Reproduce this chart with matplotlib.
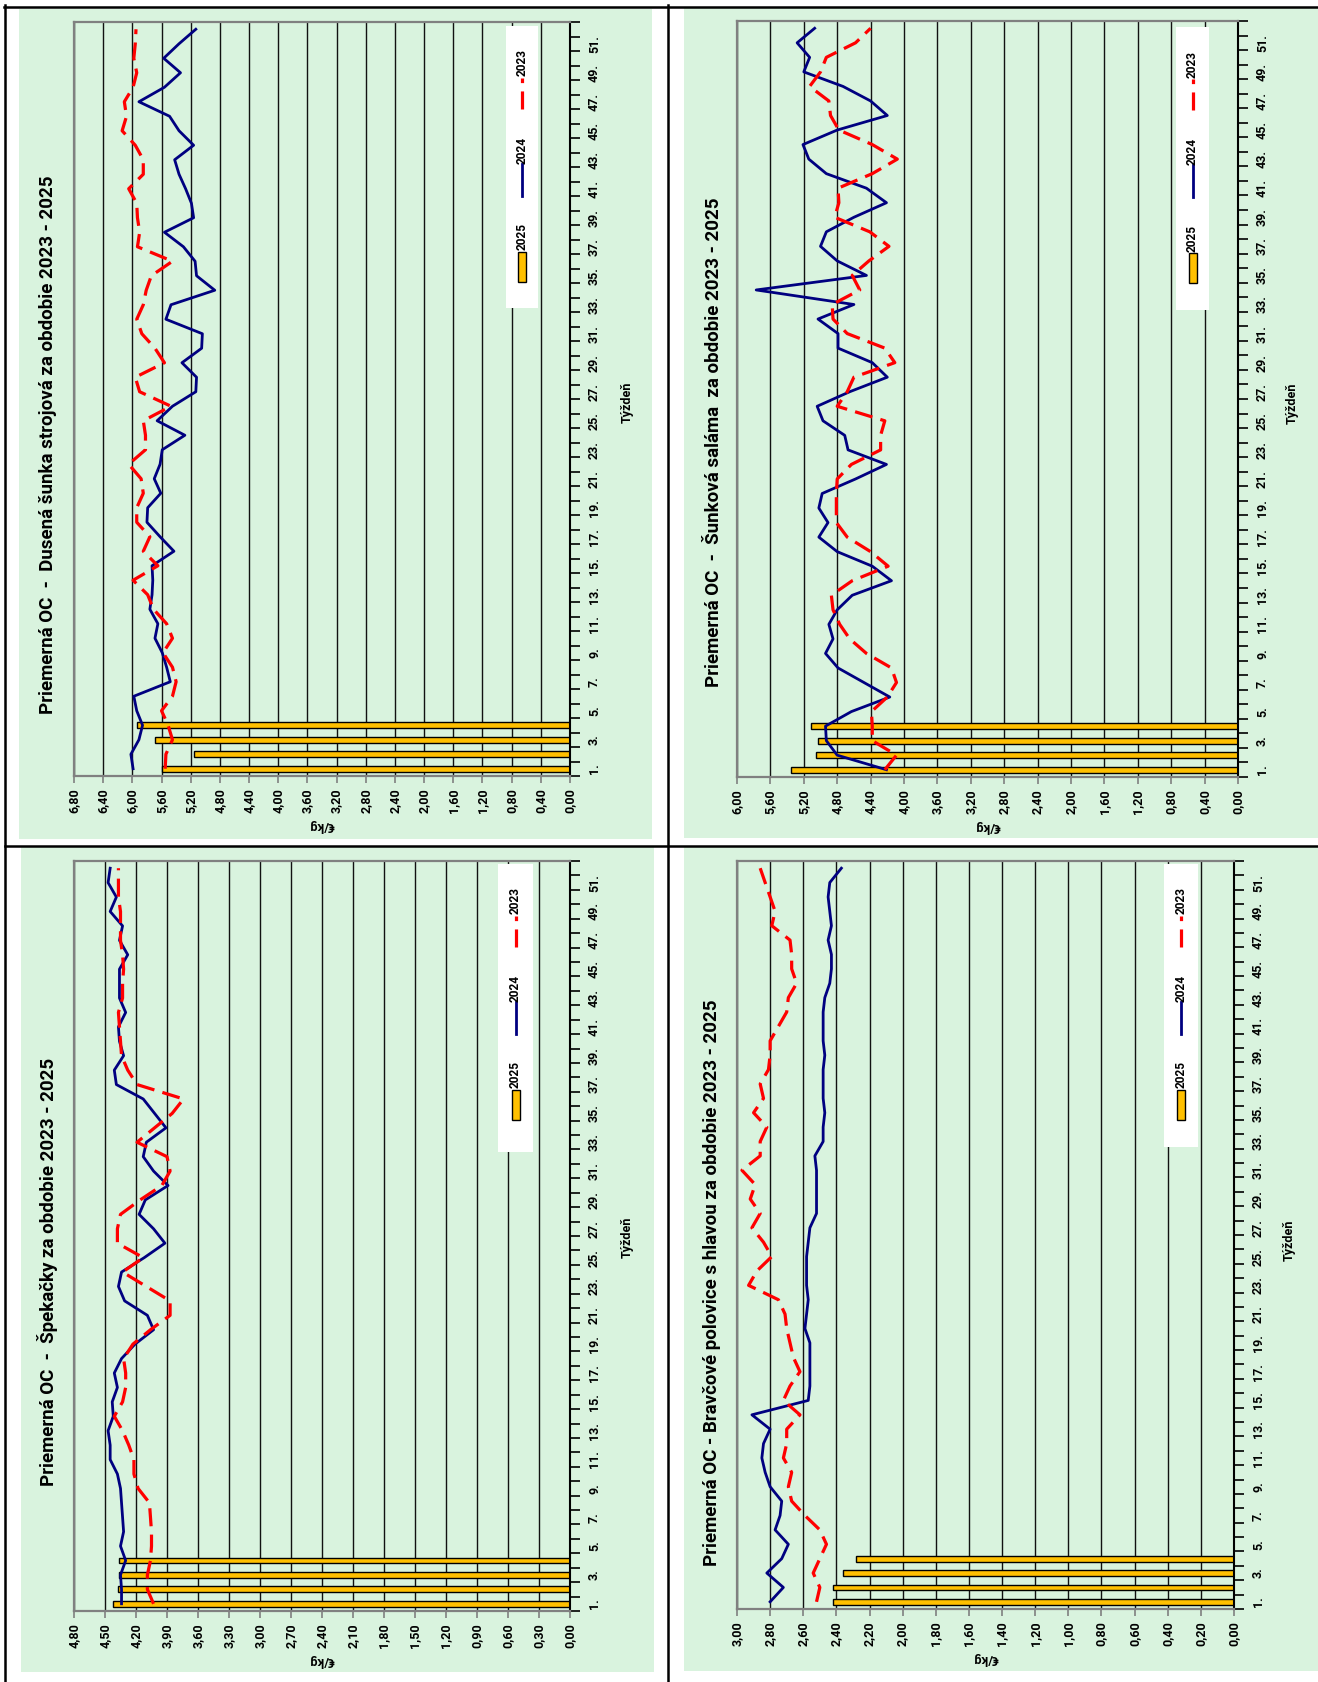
import numpy as np
import matplotlib
matplotlib.use("Agg")
import matplotlib.pyplot as plt
from matplotlib import font_manager
from matplotlib.patches import Rectangle
from matplotlib.lines import Line2D
from matplotlib.ticker import FixedLocator

W, H = 1318, 1682

weeks = list(range(1, 53))
weeks_2025 = [1, 2, 3, 4]

# Dusena sunka strojova
sunka_2025 = [5.59, 5.16, 5.69, 5.93]
sunka_2024 = [5.99, 6.02, 5.91, 5.86, 5.94, 5.98, 5.48, 5.53, 5.59, 5.69,
              5.65, 5.76, 5.73, 5.72, 5.73, 5.43, 5.62, 5.80, 5.79, 5.61,
              5.70, 5.62, 5.59, 5.28, 5.66, 5.45, 5.13, 5.12, 5.32, 5.05,
              5.04, 5.54, 5.47, 4.87, 5.12, 5.14, 5.30, 5.56, 5.16, 5.19,
              5.27, 5.36, 5.42, 5.16, 5.36, 5.49, 5.91, 5.56, 5.34, 5.57,
              5.36, 5.13]
sunka_2023 = [5.55, 5.54, 5.45, 5.51, 5.60, 5.45, 5.40, 5.45, 5.58, 5.45,
              5.53, 5.71, 5.79, 5.99, 5.65, 5.85, 5.76, 5.94, 5.94, 5.85,
              5.88, 6.05, 5.82, 5.82, 5.85, 5.47, 5.90, 5.96, 5.56, 5.69,
              5.87, 5.94, 5.85, 5.81, 5.74, 5.45, 5.93, 5.90, 5.93, 5.94,
              6.05, 5.85, 5.85, 5.96, 6.14, 6.08, 6.11, 5.99, 5.94, 5.98,
              5.96, 5.95]

# Sunkova salama
salama_2025 = [5.35, 5.05, 5.03, 5.11]
salama_2024 = [4.21, 4.80, 4.93, 4.94, 4.63, 4.17, 4.48, 4.79, 4.94, 4.85,
               4.90, 4.80, 4.62, 4.15, 4.38, 4.80, 5.02, 4.91, 5.02, 4.98,
               4.58, 4.21, 4.67, 4.71, 4.97, 5.04, 4.65, 4.20, 4.38, 4.79,
               4.79, 5.03, 4.60, 5.77, 4.45, 4.80, 5.00, 4.93, 4.60, 4.21,
               4.45, 4.93, 5.14, 5.21, 4.80, 4.20, 4.40, 4.73, 5.20, 5.13,
               5.28, 5.07]
salama_2023 = [4.23, 4.09, 4.38, 4.38, 4.39, 4.20, 4.09, 4.15, 4.45, 4.65,
               4.77, 4.85, 4.87, 4.62, 4.19, 4.40, 4.68, 4.81, 4.81, 4.81,
               4.80, 4.63, 4.28, 4.28, 4.23, 4.80, 4.68, 4.60, 4.11, 4.23,
               4.68, 4.85, 4.86, 4.53, 4.62, 4.42, 4.18, 4.41, 4.83, 4.78,
               4.79, 4.38, 4.08, 4.38, 4.78, 4.88, 4.90, 5.13, 5.00, 4.93,
               4.58, 4.40]

# Spekacky
spek_2025 = [4.42, 4.37, 4.36, 4.36]
spek_2024 = [4.34, 4.34, 4.35, 4.30, 4.35, 4.32, 4.33, 4.34, 4.35, 4.38,
             4.45, 4.45, 4.47, 4.42, 4.43, 4.38, 4.41, 4.34, 4.21, 4.03,
             4.09, 4.31, 4.37, 4.34, 4.12, 3.92, 4.03, 4.17, 4.11, 3.89,
             4.03, 4.13, 4.10, 3.91, 4.02, 4.13, 4.39, 4.41, 4.32, 4.36,
             4.37, 4.30, 4.36, 4.36, 4.36, 4.28, 4.36, 4.33, 4.45, 4.39,
             4.47, 4.45]
spek_2023 = [4.03, 4.09, 4.09, 4.06, 4.05, 4.05, 4.06, 4.07, 4.18, 4.22,
             4.22, 4.27, 4.33, 4.41, 4.33, 4.30, 4.30, 4.32, 4.23, 4.06,
             3.87, 3.87, 4.10, 4.33, 4.13, 4.38, 4.38, 4.35, 4.16, 3.95,
             3.87, 3.90, 4.19, 4.02, 3.85, 3.74, 4.19, 4.28, 4.34, 4.35,
             4.36, 4.37, 4.33, 4.33, 4.32, 4.33, 4.35, 4.35, 4.35, 4.37,
             4.37, 4.37]

# Bravcove polovice s hlavou
brav_2025 = [2.42, 2.42, 2.36, 2.28]
brav_2024 = [2.80, 2.72, 2.82, 2.73, 2.69, 2.77, 2.74, 2.73, 2.80, 2.83,
             2.85, 2.84, 2.80, 2.91, 2.57, 2.56, 2.56, 2.56, 2.56, 2.59,
             2.58, 2.57, 2.58, 2.58, 2.58, 2.57, 2.56, 2.52, 2.52, 2.52,
             2.52, 2.53, 2.48, 2.48, 2.47, 2.48, 2.48, 2.48, 2.47, 2.48,
             2.48, 2.48, 2.47, 2.44, 2.43, 2.43, 2.45, 2.43, 2.44, 2.45,
             2.44, 2.37]
brav_2023 = [2.52, 2.50, 2.54, 2.50, 2.46, 2.50, 2.59, 2.67, 2.69, 2.67,
             2.72, 2.70, 2.70, 2.62, 2.72, 2.68, 2.62, 2.66, 2.68, 2.70,
             2.71, 2.75, 2.93, 2.88, 2.79, 2.84, 2.91, 2.86, 2.92, 2.89,
             2.97, 2.86, 2.86, 2.82, 2.90, 2.84, 2.86, 2.81, 2.80, 2.80,
             2.75, 2.70, 2.69, 2.64, 2.67, 2.67, 2.68, 2.79, 2.77, 2.80,
             2.83, 2.86]

series_names = ["2025", "2024", "2023"]

# fonts
names = {f.name for f in font_manager.fontManager.ttflist}
if "Liberation Sans Narrow" in names:
    fam, k = "Liberation Sans Narrow", 1.0
else:
    fam, k = "Roboto", 0.9
plt.rcParams["font.family"] = [fam, "DejaVu Sans"]
plt.rcParams["lines.scale_dashes"] = False

green = "#D9F3DE"
navy = "#000080"
red = "#FF0000"
gold = "#FFC000"


def fx(x):
    return x / W


def fy(y):
    return 1 - y / H


fig = plt.figure(figsize=(W / 100, H / 100), dpi=100)


def put(x, y, s, **kw):
    fig.text(fx(x), fy(y), s, **kw)


def draw_panel(green_box, plot_box, title, title_xy, vmax, step,
               v25, v24, v23, leg_box, tyz_xy):
    gx0, gy0, gx1, gy1 = green_box
    fig.patches.append(Rectangle((fx(gx0), fy(gy1)), (gx1 - gx0) / W, (gy1 - gy0) / H,
                                 transform=fig.transFigure, facecolor=green,
                                 edgecolor="none", zorder=-2))
    l, t, r, b = plot_box
    ax = fig.add_axes([fx(l), fy(b), (r - l) / W, (b - t) / H])
    ax.set_facecolor("none")
    ax.set_axisbelow(True)

    ax.barh(weeks_2025, v25, height=0.4, color=gold, edgecolor="black",
            linewidth=1.0, zorder=2)
    ax.plot(v24, weeks, color=navy, lw=2.0, zorder=3)
    ax.plot(v23, weeks, color=red, lw=2.3, dashes=(13, 6), zorder=3)

    ax.set_xlim(vmax, 0)
    ax.set_ylim(0.5, 52.5)
    ticks = np.round(np.arange(0, vmax + step / 2, step), 2)
    ax.set_xticks(ticks)
    ax.set_xticklabels([f"{v:.2f}".replace(".", ",") for v in ticks],
                       rotation=90, fontsize=10 * k, fontweight="bold")
    ax.tick_params(axis="x", direction="out", length=5, width=1.2,
                   color="#808080", pad=4)
    ax.grid(axis="x", color="#111111", lw=1.0)

    ax.yaxis.tick_right()
    ax.set_yticks(weeks[::2])
    ax.set_yticklabels([f"{w}." for w in weeks[::2]], rotation=90,
                       va="center", fontsize=10 * k, fontweight="bold")
    ax.yaxis.set_minor_locator(FixedLocator(np.arange(0.5, 53, 1)))
    ax.tick_params(axis="y", which="major", length=0, pad=13)
    ax.tick_params(axis="y", which="minor", length=7, width=1.2,
                   color="black", right=True, left=False)

    for side in ["left", "top", "bottom"]:
        ax.spines[side].set_color("#808080")
        ax.spines[side].set_linewidth(1.6)
    ax.spines["right"].set_color("black")
    ax.spines["right"].set_linewidth(1.5)

    put(title_xy[0], title_xy[1], title, rotation=90, ha="center", va="center",
        fontsize=15 * k, fontweight="bold")
    put(tyz_xy[0], tyz_xy[1], "Týždeň", rotation=90, ha="center", va="center",
        fontsize=10 * k, fontweight="bold")
    put((l + r) / 2, b + 50, "€/kg", rotation=180, ha="center", va="center",
        fontsize=10 * k, fontweight="bold")

    # legend
    x0, y0, x1, y1 = leg_box
    fig.patches.append(Rectangle((fx(x0), fy(y1)), (x1 - x0) / W, (y1 - y0) / H,
                                 transform=fig.transFigure, facecolor="white",
                                 edgecolor="none", zorder=5))
    cx = (x0 + x1) / 2
    put(cx, y0 + 37, series_names[2], rotation=90, ha="center", va="center",
        fontsize=9.5 * k, fontweight="bold", zorder=6)
    fig.add_artist(Line2D([fx(cx), fx(cx)], [fy(y0 + 83), fy(y0 + 52)],
                          transform=fig.transFigure, color=red, lw=2.3,
                          dashes=(13, 6), zorder=6))
    put(cx, y0 + 124, series_names[1], rotation=90, ha="center", va="center",
        fontsize=9.5 * k, fontweight="bold", zorder=6)
    fig.add_artist(Line2D([fx(cx), fx(cx)], [fy(y0 + 170), fy(y0 + 138)],
                          transform=fig.transFigure, color=navy, lw=2.0,
                          zorder=6))
    put(cx, y0 + 211, series_names[0], rotation=90, ha="center", va="center",
        fontsize=9.5 * k, fontweight="bold", zorder=6)
    fig.patches.append(Rectangle((fx(cx - 4), fy(y0 + 256)), 8 / W, 30 / H,
                                 transform=fig.transFigure, facecolor=gold,
                                 edgecolor="black", lw=1.0, zorder=6))


draw_panel((19, 9, 652, 839), (74, 22, 570, 776),
           "Priemerná OC  -  Dusená šunka strojová za obdobie 2023 - 2025",
           (48, 445), 6.8, 0.4, sunka_2025, sunka_2024, sunka_2023,
           (506, 26, 538, 308), (627, 402))
draw_panel((684, 8, 1318, 838), (737, 21, 1238, 777),
           "Priemerná OC  -  Šunková saláma  za obdobie 2023 - 2025",
           (714, 442), 6.0, 0.4, salama_2025, salama_2024, salama_2023,
           (1176, 27, 1209, 310), (1292, 403))
draw_panel((21, 847, 654, 1672), (74, 861, 570, 1611),
           "Priemerná OC  -  Špekačky za obdobie 2023 - 2025",
           (48, 1272), 4.8, 0.3, spek_2025, spek_2024, spek_2023,
           (498, 864, 533, 1152), (627, 1237))
draw_panel((684, 847, 1318, 1671), (737, 861, 1234, 1609),
           "Priemerná OC - Bravčové polovice s hlavou za obdobie 2023 - 2025",
           (712, 1283), 3.0, 0.2, brav_2025, brav_2024, brav_2023,
           (1164, 864, 1198, 1147), (1289, 1240))

# table borders
for xs, ys in [((4, W), (7, 7)), ((5, 5), (5, H)),
               ((668, 668), (5, H)), ((5, W), (846, 846))]:
    fig.add_artist(Line2D([fx(xs[0]), fx(xs[1])], [fy(ys[0]), fy(ys[1])],
                          transform=fig.transFigure, color="black", lw=1.8))

fig.savefig("out.png", dpi=100)
